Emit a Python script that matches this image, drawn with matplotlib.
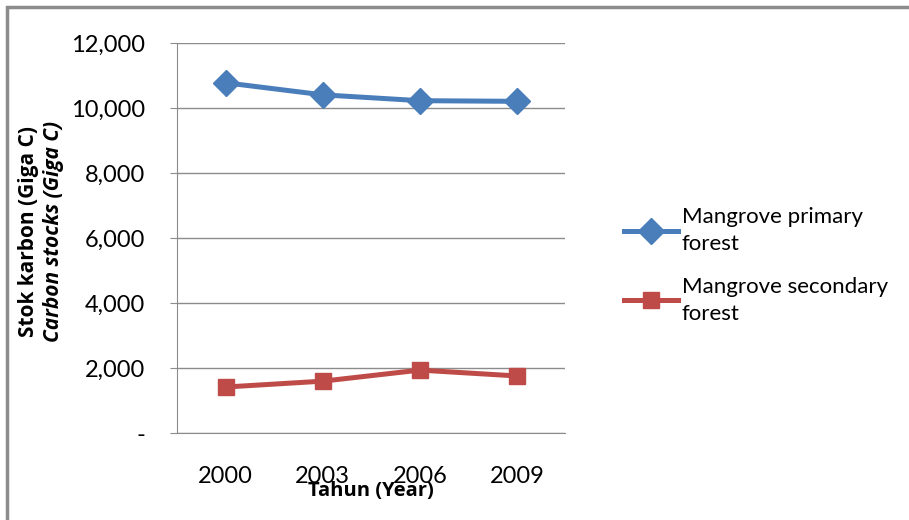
import matplotlib.pyplot as plt
from matplotlib.patches import Rectangle
from matplotlib.ticker import FuncFormatter

years = ['2000', '2003', '2006', '2009']
primary = [10780, 10410, 10230, 10210]
secondary = [1420, 1600, 1940, 1760]
yticks = [0, 2000, 4000, 6000, 8000, 10000, 12000]

plt.rcParams['font.family'] = ['Lato', 'DejaVu Sans']
title_font = ['Open Sans', 'DejaVu Sans']

fig = plt.figure(figsize=(9.09, 5.2), dpi=100)
ax = fig.add_axes([0.195, 0.167, 0.427, 0.75])

# outer chart frame (only top/left visible in original)
fig.patches.append(Rectangle((0.008, -0.1), 1.1, 1.087, transform=fig.transFigure,
                             fill=False, edgecolor='#8c8c8c', linewidth=2.5))

x = range(len(years))
ax.plot(x, primary, color='#4a7ebb', lw=3.6, marker='D', ms=13, label='Mangrove primary\nforest')
ax.plot(x, secondary, color='#be4b48', lw=3.6, marker='s', ms=11, label='Mangrove secondary\nforest')

ax.set_xlim(-0.5, 3.5)
ax.set_ylim(0, 12000)
ax.set_yticks(yticks)
ax.yaxis.set_major_formatter(FuncFormatter(lambda v, p: '-' if v == 0 else f'{int(v):,}'))
ax.set_xticks(list(x))
ax.set_xticklabels(years)
ax.grid(axis='y', color='#8c8c8c', lw=1)
ax.set_axisbelow(True)
for s in ['top', 'right']:
    ax.spines[s].set_visible(False)
ax.spines['left'].set_color('#8c8c8c')
ax.spines['bottom'].set_color('#8c8c8c')
ax.tick_params(axis='y', length=5, color='#8c8c8c', labelsize=17, pad=18)
ax.tick_params(axis='x', length=0, labelsize=17, pad=24)

ax.set_xlabel('Tahun (Year)', fontsize=14.5, fontweight='bold', labelpad=-5, family=title_font)
fig.text(0.031, 0.554, 'Stok karbon (Giga C)', rotation=90, fontsize=15, fontweight='bold',
         ha='center', va='center', family=title_font)
fig.text(0.059, 0.554, 'Carbon stocks (Giga C)', rotation=90, fontsize=15, fontweight='bold',
         style='italic', ha='center', va='center', family=title_font)

leg = ax.legend(loc='center left', bbox_to_anchor=(1.1, 0.43), frameon=False, fontsize=16,
                handlelength=2.4, handletextpad=0.2, labelspacing=1.0)
for t in leg.get_texts():
    t.set_linespacing(1.45)

fig.savefig('out.png', dpi=100)
